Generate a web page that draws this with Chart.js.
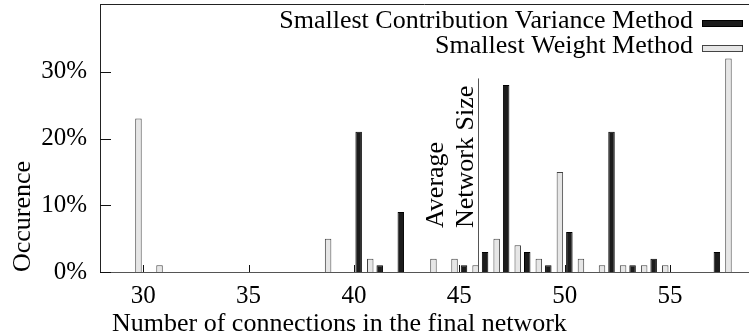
<!DOCTYPE html>
<html>
<head>
<meta charset="utf-8">
<script src="https://cdn.jsdelivr.net/npm/chart.js@4/dist/chart.umd.min.js"></script>
<style>
  html, body { margin: 0; padding: 0; background: #fff; }
  #wrap { width: 749px; height: 336px; position: relative; }
</style>
</head>
<body>
<div id="wrap"><canvas id="c"></canvas></div>
<script>
// ---- data ----
const connections = [30, 31, 39, 40, 41, 42, 44, 45, 46, 47, 48, 49, 50, 51, 52, 53, 54, 55, 57, 58];
const smallestWeightPct = [23, 1, 5, 0, 2, 0, 2, 2, 1, 5, 4, 2, 15, 2, 1, 1, 1, 1, 0, 32];
const contributionVariancePct = [0, 0, 0, 21, 1, 9, 0, 1, 3, 28, 3, 1, 6, 0, 21, 1, 2, 0, 3, 0];
const seriesNames = ['Smallest Weight Method', 'Smallest Contribution Variance Method'];
const xTickValues = [30, 35, 40, 45, 50, 55];
const yTickValues = [0, 10, 20, 30];
const averageNetworkSize = 45.9;
const averageLineTopPct = 29;
const averageLabelLines = ['Average', 'Network Size'];
const xTitle = 'Number of connections in the final network';
const yTitle = 'Occurence';

const FONT = "'Liberation Serif', 'Times New Roman', serif";
Chart.defaults.font.family = FONT;
Chart.defaults.font.size = 25;
Chart.defaults.color = '#000';

function toPoints(values) {
  return connections.map((c, i) => ({ x: c, y: values[i] === 0 ? null : values[i] }));
}

const decorPlugin = {
  id: 'decor',
  afterDraw(chart) {
    const { ctx, chartArea: a, scales: { x, y } } = chart;
    ctx.save();
    // top frame line
    ctx.strokeStyle = '#222';
    ctx.lineWidth = 1;
    ctx.beginPath();
    ctx.moveTo(a.left, a.top - 0.5);
    ctx.lineTo(a.right, a.top - 0.5);
    ctx.stroke();
    // inward tick marks
    ctx.strokeStyle = '#111';
    ctx.beginPath();
    x.ticks.forEach(t => {
      const px = Math.round(x.getPixelForValue(t.value)) + 0.5;
      ctx.moveTo(px, a.bottom);
      ctx.lineTo(px, a.bottom - 7);
    });
    y.ticks.forEach(t => {
      const py = Math.round(y.getPixelForValue(t.value)) + 0.5;
      ctx.moveTo(a.left, py);
      ctx.lineTo(a.left + 11, py);
    });
    ctx.stroke();

    // average network size marker
    const lx = Math.round(x.getPixelForValue(averageNetworkSize)) + 0.5;
    ctx.strokeStyle = '#555';
    ctx.beginPath();
    ctx.moveTo(lx, y.getPixelForValue(0));
    ctx.lineTo(lx, y.getPixelForValue(averageLineTopPct));
    ctx.stroke();
    ctx.fillStyle = '#000';
    ctx.font = "26px " + FONT;
    ctx.textAlign = 'left';
    ctx.textBaseline = 'alphabetic';
    const startY = 228;
    const offsets = [-36, -6];
    averageLabelLines.forEach((txt, i) => {
      ctx.save();
      ctx.translate(lx + offsets[i], startY);
      ctx.rotate(-Math.PI / 2);
      ctx.fillText(txt, 0, 0);
      ctx.restore();
    });

    // x axis title
    ctx.font = "26px " + FONT;
    ctx.textAlign = 'left';
    ctx.fillText(xTitle, a.left + 12, 331);

    // legend (right aligned, swatch after text)
    ctx.textAlign = 'right';
    const ds = chart.data.datasets.slice().reverse();
    ds.forEach((d, i) => {
      const base = 28 + i * 25;
      ctx.fillStyle = '#000';
      ctx.fillText(d.label, a.right - 56, base);
      ctx.fillStyle = d.backgroundColor;
      ctx.strokeStyle = d.borderColor;
      ctx.lineWidth = 1;
      ctx.fillRect(a.right - 46.5, base - 7.5, 40, 6);
      ctx.strokeRect(a.right - 46.5, base - 7.5, 40, 6);
    });
    ctx.restore();
  }
};

new Chart(document.getElementById('c'), {
  type: 'bar',
  data: {
    datasets: [
      {
        label: seriesNames[0],
        data: toPoints(smallestWeightPct),
        backgroundColor: '#e6e6e6',
        borderColor: '#444',
        borderWidth: 1
      },
      {
        label: seriesNames[1],
        data: toPoints(contributionVariancePct),
        backgroundColor: '#1c1c1c',
        borderColor: '#000',
        borderWidth: 1
      }
    ]
  },
  options: {
    responsive: true,
    maintainAspectRatio: false,
    animation: false,
    devicePixelRatio: 1,
    categoryPercentage: 0.9,
    barPercentage: 0.684,
    layout: { padding: { top: 5, right: 0, left: 0, bottom: 0 } },
    plugins: {
      legend: { display: false },
      tooltip: { enabled: false }
    },
    scales: {
      x: {
        type: 'linear',
        min: 27.95,
        max: 58.75,
        offset: false,
        grid: { display: false, drawTicks: false },
        border: { display: true, color: '#555', dash: [2, 2], width: 1 },
        afterBuildTicks: s => { s.ticks = xTickValues.map(v => ({ value: v })); },
        ticks: { padding: 9, maxRotation: 0, autoSkip: false, callback: v => String(v) },
        title: { display: false },
        afterFit: s => { s.height = 64; s.paddingLeft = 0; s.paddingRight = 0; }
      },
      y: {
        min: 0,
        max: 40,
        grid: { display: false, drawTicks: false },
        border: { display: true, color: '#222', width: 1 },
        afterBuildTicks: s => { s.ticks = yTickValues.map(v => ({ value: v })); },
        ticks: { padding: 13, callback: v => v + '%' },
        title: { display: true, text: yTitle, align: 'start', font: { size: 26, lineHeight: 1 }, padding: { top: 10, bottom: 0 } },
        afterFit: s => { s.width = 100; s.paddingTop = 0; s.paddingBottom = 0; }
      }
    }
  },
  plugins: [decorPlugin]
});
</script>
</body>
</html>
